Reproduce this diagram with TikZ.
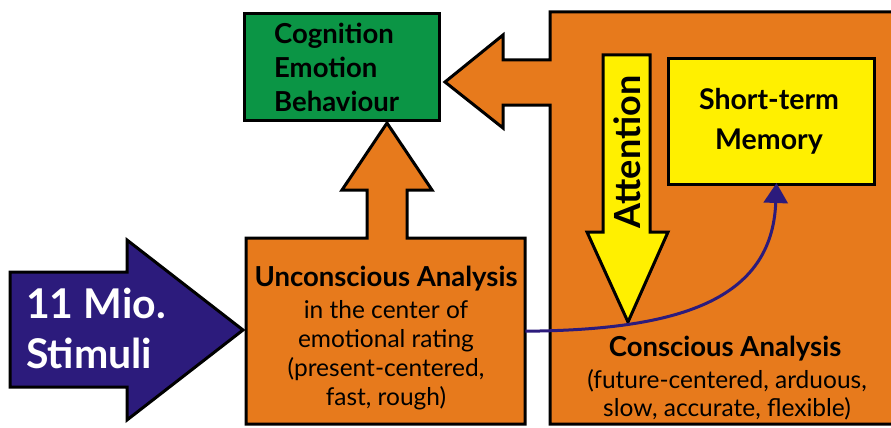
\documentclass[tikz,border=0pt]{standalone}
\usepackage{fontspec}
\setmainfont{Lato}
\usetikzlibrary{arrows.meta}
\definecolor{boxorange}{HTML}{E77A1C}
\definecolor{boxgreen}{HTML}{0B9545}
\definecolor{boxyellow}{HTML}{FFF000}
\definecolor{stimblue}{HTML}{2C1B7C}
\begin{document}
\begin{tikzpicture}[x=1pt,y=-1pt,
  outline/.style={draw=black,line width=3pt,line join=miter},
  label/.style={align=center,inner sep=0pt,text=black}]
\useasboundingbox (0,0) rectangle (891,428);
% conscious area with its arrow towards the result box
\path[outline,fill=boxorange] (550,12) -- (905,12) -- (905,424) -- (550,424) -- (550,105)
  -- (503,105) -- (503,128) -- (445,82) -- (503,35) -- (503,60) -- (550,60) -- cycle;
% unconscious area with its upward arrow
\path[outline,fill=boxorange] (246,238) -- (367,238) -- (367,190) -- (342,190) -- (387,123)
  -- (432,190) -- (407,190) -- (407,238) -- (525,238) -- (525,424) -- (246,424) -- cycle;
% incoming stimuli
\path[outline,fill=stimblue] (10,272) -- (127,272) -- (127,240) -- (243,330) -- (127,420)
  -- (127,387) -- (10,387) -- cycle;
% attention arrow
\path[outline,fill=boxyellow] (603,55) -- (650,55) -- (650,232) -- (668,232) -- (628,322)
  -- (587,232) -- (603,232) -- cycle;
% boxes
\node[outline,fill=boxgreen,minimum width=195pt,minimum height=107pt,anchor=north west] (ceb) at (243,12) {};
\node[outline,fill=boxyellow,minimum width=206pt,minimum height=126pt,anchor=north west] (mem) at (667,57) {};
\node[minimum width=279pt,minimum height=186pt,anchor=north west,inner sep=0pt] (uncon) at (246,238) {};
% texts
\node[label,anchor=west,align=left,font=\bfseries\fontsize{27.5}{34}\selectfont] (cebtxt) at (274,67) {Cognition\\Emotion\\Behaviour};
\node[label,font=\bfseries\fontsize{28.5}{40}\selectfont] (memtxt) at (769,121) {Short-term\\Memory};
\node[label,rotate=90,font=\bfseries\fontsize{36}{40}\selectfont] (att) at (627,152) {Attention};
\node[label,text=white,anchor=west,align=left,font=\bfseries\fontsize{41}{50}\selectfont] (stim) at (26,328) {11 Mio.\\Stimuli};
\node[label,font=\bfseries\fontsize{27.5}{30}\selectfont] (ua) at (386,279) {Unconscious Analysis};
\node[label,font=\fontsize{24.5}{29}\selectfont] (uatxt) at (386,355) {in the center of\\emotional rating\\(present-centered,\\fast, rough)};
\node[label,font=\bfseries\fontsize{27.5}{30}\selectfont] (ca) at (725,349) {Conscious Analysis};
\node[label,font=\fontsize{24.5}{28}\selectfont] (catxt) at (727,395) {(future-centered, arduous,\\slow, accurate, flexible)};
% transfer into short-term memory
\draw[stimblue,line width=3pt,-{Triangle[length=20pt,width=24pt]}]
  (uncon.east) .. controls (680,330) and (772,300) .. ([xshift=5pt,yshift=3pt]mem.south);
\end{tikzpicture}
\end{document}
